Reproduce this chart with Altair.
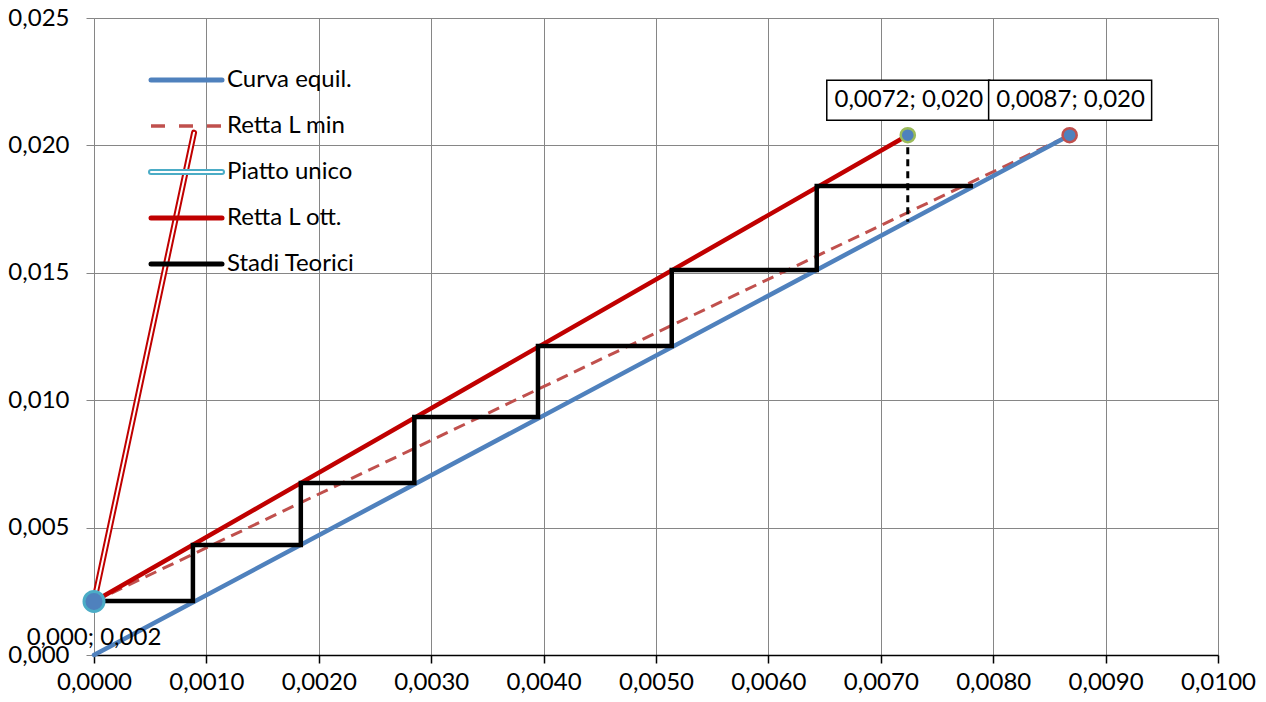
import altair as alt
import pandas as pd

# ---------------- data ----------------
X_TICKS = [0.0, 0.001, 0.002, 0.003, 0.004, 0.005, 0.006, 0.007, 0.008, 0.009, 0.010]
Y_TICKS = [0.0, 0.005, 0.010, 0.015, 0.020, 0.025]

EQ_X = [0.0, 0.00868]
EQ_Y = [0.0, 0.0204]

LMIN_X = [0.0, 0.00868]
LMIN_Y = [0.0021, 0.0204]

LOTT_X = [0.0, 0.00724]
LOTT_Y = [0.0021, 0.0204]

PIATTO_X = [0.0, 0.00089]
PIATTO_Y = [0.0021, 0.0205]

STADI_X = [0.0, 0.00088, 0.00088, 0.00184, 0.00184, 0.00285, 0.00285, 0.00395,
           0.00395, 0.00514, 0.00514, 0.00643, 0.00643, 0.00782]
STADI_Y = [0.00212, 0.00212, 0.00432, 0.00432, 0.00675, 0.00675, 0.00934, 0.00934,
           0.01213, 0.01213, 0.01511, 0.01511, 0.01841, 0.01841]

VERT_X = [0.00724, 0.00724]
VERT_Y = [0.0204, 0.0170]

PT_X = [0.0, 0.00724, 0.00868]
PT_Y = [0.0021, 0.0204, 0.0204]
PT_LABEL = ["0,000; 0,002", "0,0072; 0,020", "0,0087; 0,020"]

LEGEND_NAMES = ["Curva equil.", "Retta L min", "Piatto unico", "Retta L ott.", "Stadi Teorici"]

FONT = "Lato"
FS = 24

# ---------------- helpers ----------------
xs = alt.Scale(domain=[0, 0.01], nice=False, zero=False)
ys = alt.Scale(domain=[0, 0.025], nice=False, zero=False)

AX = alt.Axis(
    values=X_TICKS, title=None, grid=True, gridColor="#868686", gridWidth=1,
    domainColor="black", domainWidth=1.5, tickColor="black", tickWidth=1.5,
    tickSize=8, labelFont=FONT, labelFontSize=FS, labelColor="black",
    labelPadding=7, labelFlush=False,
    labelExpr="replace(format(datum.value, '.4f'), '.', ',')")
AY = alt.Axis(
    values=Y_TICKS, title=None, grid=True, gridColor="#868686", gridWidth=1,
    domainColor="#868686", domainWidth=1, tickColor="#868686", tickWidth=1,
    tickSize=8, labelFont=FONT, labelFontSize=FS, labelColor="black",
    labelPadding=17, labelFlush=False,
    labelExpr="replace(format(datum.value, '.3f'), '.', ',')")


def df(xv, yv):
    return pd.DataFrame({"x": xv, "y": yv, "i": list(range(len(xv)))})


def X():
    return alt.X("x:Q", scale=xs, axis=AX)


def Y():
    return alt.Y("y:Q", scale=ys, axis=AY)


def line(xv, yv, **kw):
    return alt.Chart(df(xv, yv)).mark_line(**kw).encode(x=X(), y=Y(), order="i:Q")


piatto_outer = line(PIATTO_X, PIATTO_Y, color="#C00000", strokeWidth=6, strokeCap="round")
piatto_inner = line(PIATTO_X, PIATTO_Y, color="white", strokeWidth=2, strokeCap="round")
lmin = line(LMIN_X, LMIN_Y, color="#C0504D", strokeWidth=3, strokeDash=[12, 7])
eq = line(EQ_X, EQ_Y, color="#4F81BD", strokeWidth=4.5, strokeCap="round")
lott = line(LOTT_X, LOTT_Y, color="#C00000", strokeWidth=4.5, strokeCap="round")
stadi = line(STADI_X, STADI_Y, color="black", strokeWidth=4.5, strokeJoin="miter")
vert = line(VERT_X, VERT_Y, color="black", strokeWidth=3, strokeDash=[7, 5])

pts = pd.DataFrame({"x": PT_X, "y": PT_Y, "label": PT_LABEL})

p0 = alt.Chart(pts.iloc[[0]]).mark_circle(
    size=400, color="#4F81BD", opacity=1, stroke="#4BACC6", strokeWidth=3
).encode(x=X(), y=Y())
p1 = alt.Chart(pts.iloc[[1]]).mark_circle(
    size=200, color="#4F81BD", opacity=1, stroke="#9BBB59", strokeWidth=2.5
).encode(x=X(), y=Y())
p2 = alt.Chart(pts.iloc[[2]]).mark_circle(
    size=200, color="#4F81BD", opacity=1, stroke="#C0504D", strokeWidth=2.5
).encode(x=X(), y=Y())

lab0 = alt.Chart(pts.iloc[[0]]).mark_text(
    font=FONT, fontSize=FS, color="black", baseline="middle", align="center", dy=37
).encode(x=X(), y=Y(), text="label:N")

boxes = alt.Chart(pts.iloc[[1, 2]]).mark_rect(
    fill="white", stroke="black", strokeWidth=1.5,
    xOffset=-81, x2Offset=82, yOffset=-55, y2Offset=-15
).encode(x=X(), x2="x:Q", y=Y(), y2="y:Q")

labs = alt.Chart(pts.iloc[[1, 2]]).mark_text(
    font=FONT, fontSize=FS, color="black", baseline="middle", align="center", dy=-35, dx=1
).encode(x=X(), y=Y(), text="label:N")

# ---------------- manual legend ----------------
dummy = pd.DataFrame({"a": [0]})
leg_styles = [
    dict(color="#4F81BD", strokeWidth=5, strokeCap="round"),
    dict(color="#C0504D", strokeWidth=3.5, strokeDash=[14, 14]),
    None,
    dict(color="#C00000", strokeWidth=5, strokeCap="round"),
    dict(color="black", strokeWidth=5, strokeCap="round"),
]
leg_layers = []
LX0, LX1, LTX, LY0, LDY = 57, 128, 133, 62, 46
for k, name in enumerate(LEGEND_NAMES):
    yy = LY0 + LDY * k
    enc = dict(x=alt.value(LX0), x2=alt.value(LX1), y=alt.value(yy))
    if leg_styles[k] is None:
        leg_layers.append(alt.Chart(dummy).mark_rule(color="#4BACC6", strokeWidth=6, strokeCap="round").encode(**enc))
        leg_layers.append(alt.Chart(dummy).mark_rule(color="white", strokeWidth=2, strokeCap="round").encode(**enc))
    else:
        leg_layers.append(alt.Chart(dummy).mark_rule(**leg_styles[k]).encode(**enc))
    leg_layers.append(alt.Chart(dummy).mark_text(
        text=name, font=FONT, fontSize=FS, color="black", align="left", baseline="middle"
    ).encode(x=alt.value(LTX), y=alt.value(yy)))

chart = alt.layer(
    piatto_outer, piatto_inner, lmin, eq, lott, stadi, vert,
    p1, p2, boxes, labs, p0, lab0, *leg_layers
).properties(
    width=1124, height=637,
    autosize=alt.AutoSizeParams(type="none"),
    padding={"left": 86, "top": 10, "right": 40, "bottom": 39},
    background="white",
).configure_view(strokeWidth=0)

chart.save("out.html", embed_options={"renderer": "svg", "actions": False})
